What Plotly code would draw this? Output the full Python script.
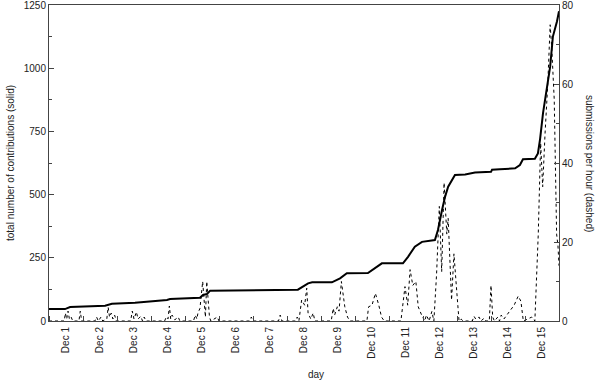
import plotly.graph_objects as go

# cumulative contributions (left axis), x in days (Dec N -> N)
solid_day = [0.5, 0.97, 1.12, 2.15, 2.35, 3.03, 3.97, 4.06, 4.94, 5.03, 5.15, 5.18, 5.24,
             7.82, 8.12, 8.24, 8.82, 9.06, 9.26, 9.88, 10.15, 10.29, 10.91, 11.06, 11.26,
             11.47, 11.85, 11.94, 12.06, 12.15, 12.24, 12.35, 12.44, 12.74, 13.03, 13.5,
             13.53, 13.76, 14.21, 14.35, 14.44, 14.79, 14.88, 14.94, 15.03, 15.24, 15.32,
             15.44, 15.5]
solid_total = [47, 47, 55, 60, 68, 72, 83, 87, 92, 103, 107, 113, 120,
               124, 149, 153, 153, 169, 189, 190, 215, 228, 228, 254, 294,
               313, 320, 360, 439, 492, 531, 558, 578, 580, 587, 590,
               598, 600, 604, 617, 640, 642, 663, 716, 822, 1006, 1125,
               1185, 1225]

# submissions per hour (right axis)
rate_day = [0.5, 0.95, 0.98, 1.02, 1.06, 1.1, 1.15, 1.2, 1.38, 1.42, 1.46, 1.85, 1.9, 1.95,
            2.03, 2.08, 2.2, 2.24, 2.28, 2.33, 2.38, 2.43, 2.48, 2.9, 2.95, 3.0, 3.07, 3.12,
            3.2, 3.25, 3.3, 3.35, 3.9, 3.95, 4.0, 4.04, 4.08, 4.12, 4.2, 4.3, 4.35, 4.75,
            4.8, 4.85, 4.88, 4.94, 5.02, 5.06, 5.1, 5.14, 5.18, 5.22, 5.26, 5.45, 5.5,
            6.4, 6.45, 6.5, 7.25, 7.3, 7.35, 7.75, 7.8, 7.85, 7.93, 8.02, 8.08, 8.12, 8.2,
            8.27, 8.32, 8.8, 8.86, 8.9, 8.98, 9.03, 9.1, 9.2, 9.28, 9.35, 9.85, 9.9, 10.0,
            10.1, 10.2, 10.28, 10.36, 10.85, 10.97, 11.05, 11.12, 11.2, 11.29, 11.36,
            11.46, 11.55, 11.6, 11.68, 11.76, 11.82, 11.9, 11.98, 12.05, 12.12, 12.2,
            12.24, 12.34, 12.41, 12.49, 12.56, 12.62, 12.68, 12.95, 13.0, 13.05, 13.15,
            13.2, 13.3, 13.35, 13.45, 13.5, 13.55, 13.6, 13.7, 13.75, 13.8, 13.88, 14.0,
            14.08, 14.18, 14.3, 14.38, 14.45, 14.6, 14.7, 14.79, 14.89, 14.96, 15.02,
            15.09, 15.17, 15.24, 15.29, 15.36, 15.43, 15.47, 15.5]
rate_value = [0, 0, 2, 0.5, 2.5, 0.5, 1, 0, 0, 2.5, 0, 0, 1, 0,
              1, 0, 0.5, 3.5, 1, 2, 0.5, 1.5, 0, 0, 2.5, 0.5, 2.3, 0.5,
              1.2, 0, 1, 0, 0, 1, 0.5, 3.8, 0.5, 1.5, 0.3, 1, 0, 0,
              1.5, 0.5, 2, 3.2, 10, 6, 1, 10, 5, 1, 0, 1, 0,
              0, 1, 0, 0, 1.5, 0, 0, 1, 0, 5.3, 4, 8.3, 2, 0.5,
              2, 0, 0, 3.2, 1.5, 3.6, 2.5, 10, 3.6, 1, 0, 0, 3.6, 4,
              7, 4, 1, 0, 0, 8.7, 4, 13, 9, 10, 3.6,
              1.5, 0, 1.5, 0, 2.4, 0, 12, 29, 12.5, 35, 22,
              26, 5.3, 17, 7.8, 0, 0.5, 0, 0, 1.2, 0.5, 1,
              0, 0.7, 0, 0, 9, 1, 0, 1, 0, 1.5, 0.5, 2,
              2.8, 4, 6.3, 5, 0, 0.5, 1, 0, 22, 45, 34,
              47.5, 60, 75, 68.6, 56, 22, 19, 14]

day_ticks = list(range(1, 16))
day_labels = ["Dec %d" % d for d in day_ticks]
left_ticks = [0, 250, 500, 750, 1000, 1250]
right_ticks = [0, 20, 40, 60, 80]

FONT = "Liberation Sans, Arial, sans-serif"
INK = "#222222"

fig = go.Figure()
fig.add_trace(go.Scatter(x=solid_day, y=solid_total, mode="lines",
                         line=dict(color="black", width=2), yaxis="y",
                         showlegend=False, hoverinfo="skip", cliponaxis=False))
fig.add_trace(go.Scatter(x=rate_day, y=rate_value, mode="lines",
                         line=dict(color="black", width=1, dash="3px,3px"),
                         yaxis="y2", showlegend=False, hoverinfo="skip"))

fig.update_layout(
    width=598, height=380,
    margin=dict(l=49, r=39, t=5, b=59, autoexpand=False),
    paper_bgcolor="white", plot_bgcolor="white",
    font=dict(family=FONT, size=10, color=INK),
    xaxis=dict(range=[0.5, 15.5], tickvals=day_ticks, ticktext=day_labels,
               tickangle=-90, ticks="", showgrid=False, zeroline=False,
               showline=True, linecolor="#444", linewidth=1, mirror=True,
               automargin=False, ticklabelstandoff=1,
               minor=dict(tickvals=[d + 0.5 for d in range(0, 16)], ticks="inside",
                          ticklen=5, tickcolor="#444", showgrid=False),
               tickfont=dict(size=10, color=INK)),
    yaxis=dict(range=[0, 1250], tickvals=left_ticks, ticks="inside", ticklen=5,
               tickcolor="#444", showgrid=False, zeroline=False, showline=True,
               linecolor="#444", linewidth=1, automargin=False,
               ticklabeloverflow="allow",
               minor=dict(dtick=125, ticks="inside", ticklen=3, tickcolor="#444",
                          showgrid=False),
               tickfont=dict(size=10, color=INK)),
    yaxis2=dict(range=[0, 80], tickvals=right_ticks, overlaying="y", side="right",
                ticks="inside", ticklen=5, tickcolor="#444", showgrid=False,
                zeroline=False, showline=True, linecolor="#444", linewidth=1,
                automargin=False, ticklabeloverflow="allow",
                minor=dict(dtick=10, ticks="inside", ticklen=3, tickcolor="#444",
                           showgrid=False),
                tickfont=dict(size=10, color=INK)),
    annotations=[
        dict(text="day", xref="paper", yref="paper", x=0.523, y=0, yshift=-53,
             showarrow=False, xanchor="center", yanchor="middle",
             font=dict(size=10, color=INK)),
        dict(text="total number of contributions (solid)", xref="paper", yref="paper",
             x=0, xshift=-39, y=0.5, textangle=-90, showarrow=False,
             xanchor="center", yanchor="middle", font=dict(size=10, color=INK)),
        dict(text="submissions per hour (dashed)", xref="paper", yref="paper",
             x=1, xshift=31, y=0.5, textangle=90, showarrow=False,
             xanchor="center", yanchor="middle", font=dict(size=10, color=INK)),
    ],
)

fig.write_html("out.html", config={"displayModeBar": False, "staticPlot": True},
               post_script="document.body.style.margin='0';document.body.style.overflow='hidden';")
